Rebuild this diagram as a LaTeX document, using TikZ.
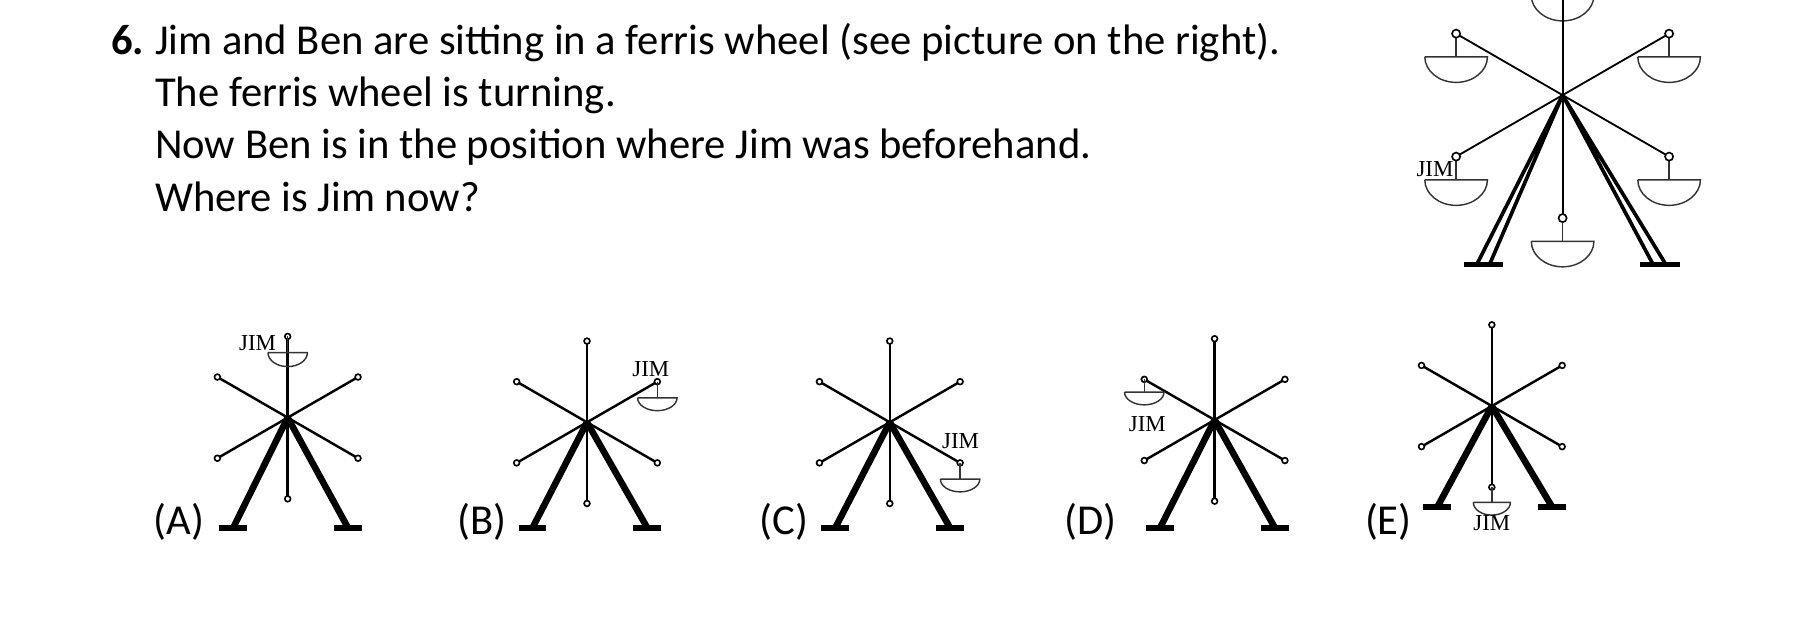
\documentclass[tikz,border=0pt]{standalone}
\usepackage{fontspec}
\setmainfont{Carlito}
\newfontfamily\jimfont{Liberation Serif}
\usetikzlibrary{calc}

\tikzset{
  spoke/.style={line width=0.6pt},
  bigspoke/.style={line width=0.45pt},
  pivot/.style={line width=0.4pt,fill=white},
  leg/.style={line width=1.6pt},
  bowl/.style={line width=0.35pt,draw=black!80},
  txt/.style={anchor=base west,inner sep=0pt,font=\fontsize{10.45}{12}\selectfont},
  jim/.style={inner sep=0pt,font=\jimfont\fontsize{5.6}{6}\selectfont}
}

% gondola hanging below a pivot: pivot, stem, half width, depth
\newcommand{\gondola}[4]{%
  \draw[bowl] (#1) -- ++(0,#2);
  \draw[bowl] ($(#1)+(-#3,#2)$) -- ($(#1)+(#3,#2)$)
    arc[start angle=0,end angle=-180,x radius=#3*0.01cm,y radius=#4];
}

% small wheel: name, hub, leg drop
\newcommand{\smallwheel}[3]{%
  \coordinate (#1) at #2;
  \draw[leg] (#1) -- ++(-47,#3) coordinate (#1-l);
  \draw[leg] (#1) -- ++(52,#3) coordinate (#1-r);
  \draw[leg] ($(#1-l)+(-12,0)$) -- ++(24,0);
  \draw[leg] ($(#1-r)+(-12,0)$) -- ++(24,0);
  \foreach \a in {30,90,...,330}{
    \draw[spoke] (#1) -- ++(\a:70) coordinate (#1-\a);
    \draw[pivot] (#1-\a) circle[radius=0.025cm];
  }
}

\begin{document}
\begin{tikzpicture}[x=0.01cm,y=-0.01cm]
\useasboundingbox (0,0) rectangle (1568,551);

% question
\node[txt] (q0) at (95,47) {\textbf{6.}};
\node[txt] (q1) at (133,47) {Jim and Ben are sitting in a ferris wheel (see picture on the right).};
\node[txt] (q2) at (133,92) {The ferris wheel is turning.};
\node[txt] (q3) at (133,137) {Now Ben is in the position where Jim was beforehand.};
\node[txt] (q4) at (133,182) {Where is Jim now?};

% big wheel
\coordinate (W) at (1347,82);
\draw[leg,line width=0.9pt] (W) -- ++(-74,146) (W) -- ++(-63,146);
\draw[leg,line width=0.9pt] (W) -- ++(78,146) (W) -- ++(89,146);
\draw[leg,line width=1pt] (1262,228) -- (1296,228) (1414,228) -- (1448,228);
\foreach \a in {30,90,...,330}{
  \draw[bigspoke] (W) -- ++(\a:106) coordinate (W-\a);
}
\foreach \a in {30,90,...,330}{
  \gondola{W-\a}{20}{27}{0.22cm}
  \draw[pivot] (W-\a) circle[radius=0.035cm];
}
\draw[bigspoke] (W) -- (W-270);
\node[jim] (wjim) at (1237,146) {JIM};

% answers
\smallwheel{A}{(248,360)}{95}
\smallwheel{B}{(506,364)}{91}
\smallwheel{C}{(767,364)}{91}
\smallwheel{D}{(1047,362)}{93}
\smallwheel{E}{(1286,350)}{87}

\gondola{A-270}{14}{17}{0.12cm}
\node[jim] (ajim) at (222,296) {JIM};
\gondola{B-330}{14}{17}{0.11cm}
\node[jim] (bjim) at (561,318) {JIM};
\gondola{C-30}{14}{17}{0.11cm}
\node[jim] (cjim) at (828,380) {JIM};
\gondola{D-210}{11}{17}{0.11cm}
\node[jim] (djim) at (989,366) {JIM};
\gondola{E-90}{13}{16}{0.11cm}
\node[jim] (ejim) at (1286,451) {JIM};

\node[txt] (la) at (132,461) {(A)};
\node[txt] (lb) at (394,461) {(B)};
\node[txt] (lc) at (654,461) {(C)};
\node[txt] (ld) at (917,461) {(D)};
\node[txt] (le) at (1176,461) {(E)};
\end{tikzpicture}
\end{document}
